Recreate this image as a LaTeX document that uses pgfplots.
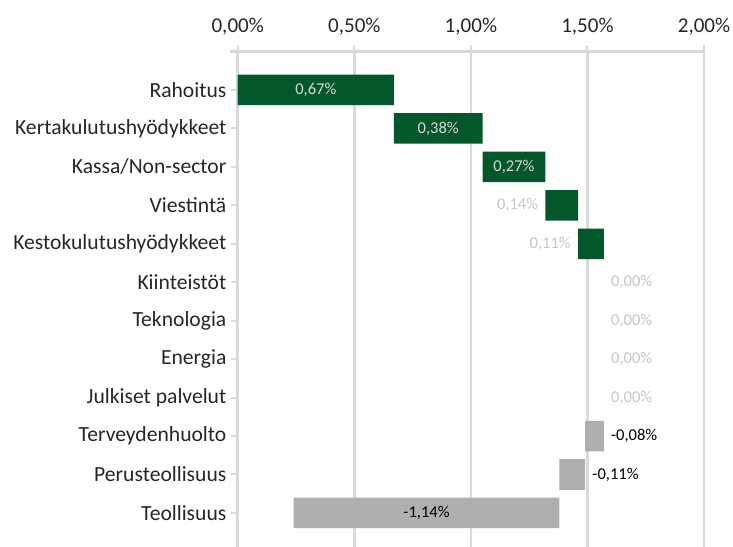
\documentclass[border=0pt]{standalone}
\usepackage{fontspec}
\setmainfont{Carlito}
\usepackage{pgfplots}
\pgfplotsset{compat=1.18}
\definecolor{gr}{HTML}{03572A}
\definecolor{gb}{HTML}{AFAFAF}
\definecolor{gl}{HTML}{D9D9D9}
\definecolor{lab}{HTML}{C6C6C6}
\definecolor{inlab}{HTML}{D8D8D8}
\begin{document}
\begin{tikzpicture}[x=1pt,y=1pt]
\path[use as bounding box] (0,0) rectangle (549.75,410.25);
\begin{axis}[
  at={(178.3pt,0pt)}, anchor=south west,
  scale only axis, width=349.7pt, height=371.5pt,
  xmin=0, xmax=2, ymin=-0.996, ymax=11.886, y dir=reverse,
  axis x line*=top, axis y line*=left,
  axis line style={gl, line width=2pt},
  x axis line style={shorten <=-5.8pt},
  xmajorgrids, grid style={gl, line width=2pt},
  xtick={0,0.5,1,1.5,2},
  xticklabels={{0,00\%},{0,50\%},{1,00\%},{1,50\%},{2,00\%}},
  ytick={0,...,11},
  yticklabels={Rahoitus,Kertakulutushyödykkeet,Kassa/Non-sector,Viestintä,Kestokulutushyödykkeet,Kiinteistöt,Teknologia,Energia,Julkiset palvelut,Terveydenhuolto,Perusteollisuus,Teollisuus},
  tick style={gl, line width=1.5pt}, tick align=outside, major tick length=5pt,
  yticklabel style={font=\fontsize{16.2}{18}\selectfont, text=black!85},
  xticklabel style={font=\fontsize{15.8}{18}\selectfont, text=black!85, yshift=4pt},
  clip=false,
]
% offsets (invisible)
\addplot[xbar stacked, bar width=22.9pt, draw=none, fill=none, forget plot] coordinates {
 (0,0) (0.67,1) (1.05,2) (1.32,3) (1.46,4) (1.57,5) (1.57,6) (1.57,7) (1.57,8) (1.49,9) (1.38,10) (0.24,11)};
% increases
\addplot[xbar stacked, bar width=22.9pt, draw=none, fill=gr] coordinates {
 (0.67,0) (0.38,1) (0.27,2) (0.14,3) (0.11,4) (0,5) (0,6) (0,7) (0,8) (0,9) (0,10) (0,11)};
% decreases
\addplot[xbar stacked, bar width=22.9pt, draw=none, fill=gb] coordinates {
 (0,0) (0,1) (0,2) (0,3) (0,4) (0,5) (0,6) (0,7) (0,8) (0.08,9) (0.11,10) (1.14,11)};
% labels inside green bars
\addplot[sharp plot, draw=none, mark=none, nodes near coords, point meta=explicit symbolic,
  nodes near coords style={anchor=center, text=inlab, font=\fontsize{12.4}{14}\selectfont}] coordinates {
 (0.335,0)[0,67\%] (0.86,1)[0,38\%] (1.185,2)[0,27\%]};
% labels left of small green bars
\addplot[sharp plot, draw=none, mark=none, nodes near coords, point meta=explicit symbolic,
  nodes near coords style={anchor=east, xshift=-2pt, text=lab, font=\fontsize{12.4}{14}\selectfont}] coordinates {
 (1.32,3)[0,14\%] (1.46,4)[0,11\%]};
% zero labels
\addplot[sharp plot, draw=none, mark=none, nodes near coords, point meta=explicit symbolic,
  nodes near coords style={anchor=west, xshift=2pt, text=lab, font=\fontsize{12.4}{14}\selectfont}] coordinates {
 (1.57,5)[0,00\%] (1.57,6)[0,00\%] (1.57,7)[0,00\%] (1.57,8)[0,00\%]};
% labels right of grey bars
\addplot[sharp plot, draw=none, mark=none, nodes near coords, point meta=explicit symbolic,
  nodes near coords style={anchor=west, xshift=2pt, text=black, font=\fontsize{12.4}{14}\selectfont}] coordinates {
 (1.57,9)[-0,08\%] (1.49,10)[-0,11\%]};
% label inside large grey bar
\addplot[sharp plot, draw=none, mark=none, nodes near coords, point meta=explicit symbolic,
  nodes near coords style={anchor=center, text=black, font=\fontsize{12.4}{14}\selectfont}] coordinates {
 (0.81,11)[-1,14\%]};
\end{axis}
\end{tikzpicture}
\end{document}
